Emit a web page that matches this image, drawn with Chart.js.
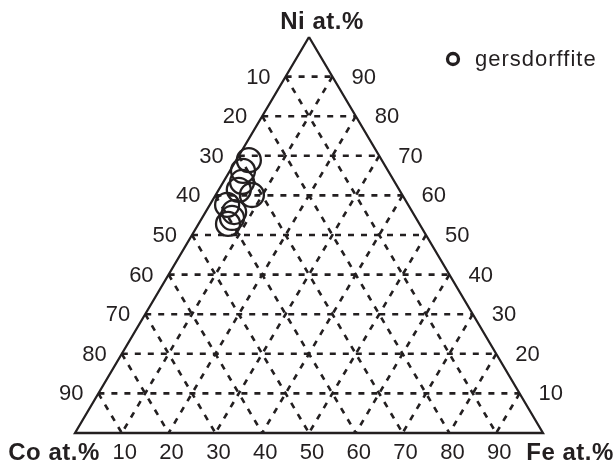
<!DOCTYPE html>
<html>
<head>
<meta charset="utf-8">
<script src="https://cdn.jsdelivr.net/npm/chart.js@4.4.1/dist/chart.umd.min.js"></script>
<style>
html,body{margin:0;padding:0;background:#fff;}
#wrap{width:615px;height:465px;position:relative;}
</style>
</head>
<body>
<div id="wrap"><canvas id="c"></canvas></div>
<script>
// ---- Data (at.%) ----
const seriesName = 'gersdorffite';
const niValues = [68.9, 66.2, 63.4, 61.4, 60.1, 57.6, 55.8, 54.3, 52.8];
const coValues = [28.4, 31.0, 32.6, 34.3, 32.15, 38.7, 38.1, 39.3, 40.9];
const feValues = [2.7, 2.8, 4.0, 4.3, 7.75, 3.7, 6.1, 6.4, 6.3];
const gridLevels = [10, 20, 30, 40, 50, 60, 70, 80, 90];
const coTickLabels = ['10','20','30','40','50','60','70','80','90'];
const niTickLabels = ['10','20','30','40','50','60','70','80','90'];
const feTickLabels = ['10','20','30','40','50','60','70','80','90'];
const axisTitles = {ni: 'Ni at.%', co: 'Co at.%', fe: 'Fe at.%'};

// ternary -> cartesian (x = Fe + Ni/2, y = Ni)
function tern(ni, co, fe) { return {x: fe + ni / 2, y: ni}; }

const INK = '#231f20';
const datasets = [];

// triangle outline
datasets.push({
  type: 'line', label: '_frame',
  data: [tern(100,0,0), tern(0,100,0), tern(0,0,100), tern(100,0,0)],
  borderColor: INK, borderWidth: 2.3, pointRadius: 0, fill: false, clip: false, tension: 0, order: 2
});

// dashed grid lines
gridLevels.forEach(k => {
  const lines = [
    [tern(k, 100 - k, 0), tern(k, 0, 100 - k)],          // Ni = k
    [tern(100 - k, k, 0), tern(0, k, 100 - k)],          // Co = k
    [tern(100 - k, 0, k), tern(0, 100 - k, k)]           // Fe = k
  ];
  lines.forEach(pts => datasets.push({
    type: 'line', label: '_grid', data: pts,
    borderColor: INK, borderWidth: 2.6, borderDash: [6, 7], pointRadius: 0,
    fill: false, clip: false, tension: 0, order: 3
  }));
});

// points
datasets.push({
  type: 'scatter', label: seriesName,
  data: niValues.map((ni, i) => tern(ni, coValues[i], feValues[i])),
  pointRadius: 12, pointHoverRadius: 12, pointStyle: 'circle',
  borderColor: INK, borderWidth: 2.3, backgroundColor: 'rgba(0,0,0,0)', clip: false, order: 1
});

const labelsPlugin = {
  id: 'ternLabels',
  afterDraw(chart) {
    const ctx = chart.ctx, xs = chart.scales.x, ys = chart.scales.y;
    const P = (p) => ({x: xs.getPixelForValue(p.x), y: ys.getPixelForValue(p.y)});
    ctx.save();
    ctx.fillStyle = INK;
    ctx.textBaseline = 'middle';
    ctx.font = '22px "Liberation Sans", Arial, sans-serif';
    gridLevels.forEach((k, i) => {
      // Co labels on left edge
      let p = P(tern(100 - k, k, 0));
      ctx.textAlign = 'right';
      ctx.fillText(coTickLabels[i], p.x - 15, p.y + 1);
      // Ni labels on right edge
      p = P(tern(k, 0, 100 - k));
      ctx.textAlign = 'left';
      ctx.fillText(niTickLabels[i], p.x + 19, p.y + 1);
      // Fe labels on bottom edge
      p = P(tern(0, 100 - k, k));
      ctx.textAlign = 'center';
      ctx.fillText(feTickLabels[i], p.x + 3, p.y + 20);
    });
    ctx.font = 'bold 24px "Liberation Sans", Arial, sans-serif';
    ctx.letterSpacing = '0.5px';
    let p = P(tern(100, 0, 0));
    ctx.textAlign = 'center';
    ctx.fillText(axisTitles.ni, p.x + 13, p.y - 15);
    p = P(tern(0, 100, 0));
    ctx.fillText(axisTitles.co, p.x - 21, p.y + 20);
    p = P(tern(0, 0, 100));
    ctx.fillText(axisTitles.fe, p.x + 27, p.y + 20);
    // legend
    const lx = 453, ly = 59;
    ctx.beginPath();
    ctx.arc(lx, ly, 5.5, 0, Math.PI * 2);
    ctx.lineWidth = 3.3;
    ctx.strokeStyle = INK;
    ctx.stroke();
    ctx.font = '22px "Liberation Sans", Arial, sans-serif';
    ctx.letterSpacing = '1px';
    ctx.textAlign = 'left';
    ctx.fillText(seriesName, 475, ly + 1);
    ctx.restore();
  }
};

new Chart(document.getElementById('c'), {
  type: 'scatter',
  data: {datasets},
  options: {
    responsive: true, maintainAspectRatio: false, animation: false,
    layout: {padding: {left: 75, right: 72, top: 37, bottom: 32}},
    scales: {
      x: {type: 'linear', min: 0, max: 100, display: false},
      y: {type: 'linear', min: 0, max: 100, display: false}
    },
    plugins: {legend: {display: false}, tooltip: {enabled: false}}
  },
  plugins: [labelsPlugin]
});
</script>
</body>
</html>
